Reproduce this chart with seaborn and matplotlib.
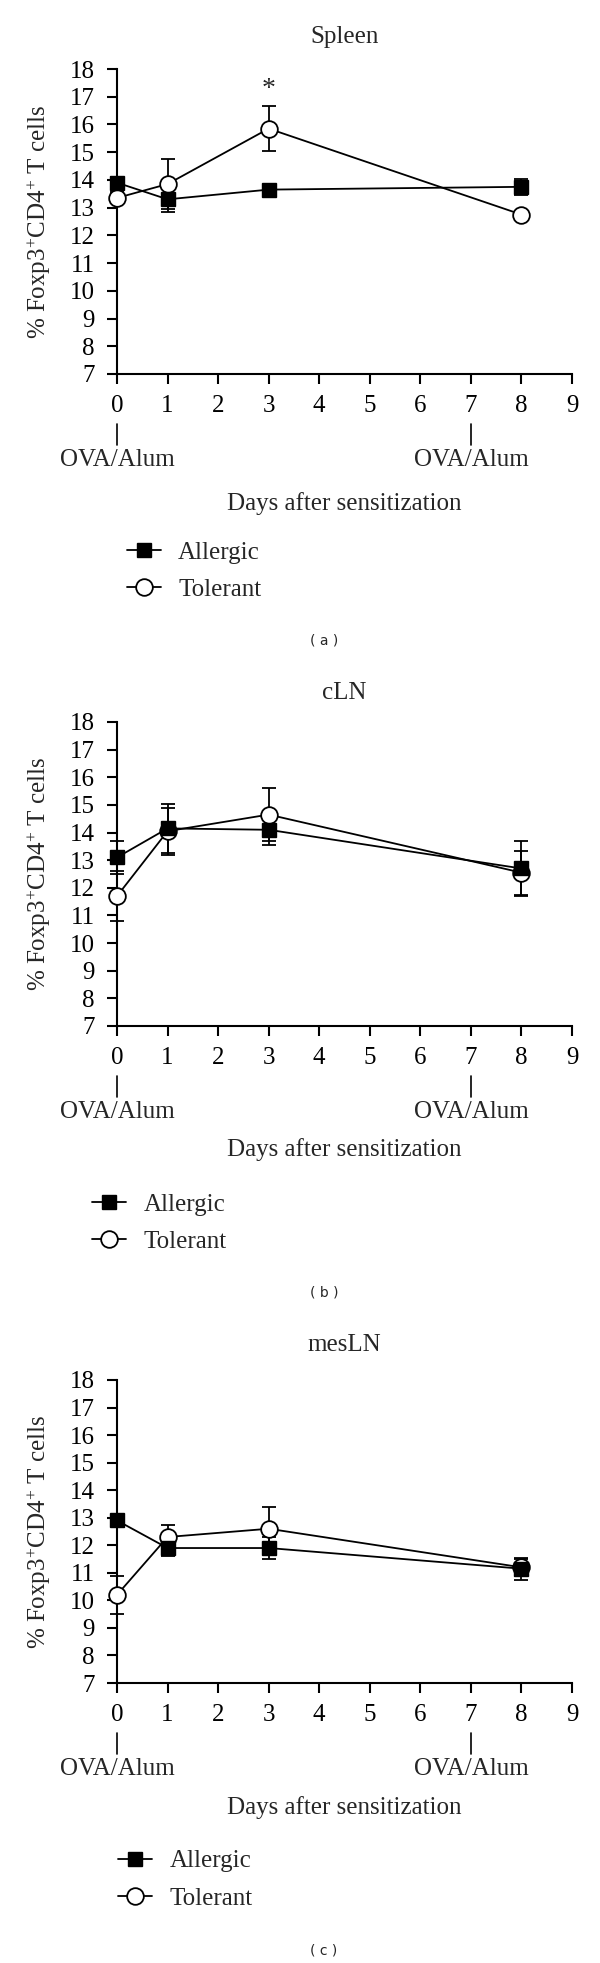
import numpy as np
import pandas as pd
import matplotlib
matplotlib.use('Agg')
import matplotlib.pyplot as plt
import seaborn as sns
from matplotlib.lines import Line2D

# Days after the first OVA/Alum sensitization
DAYS = [0, 1, 3, 8]
PANEL_NAMES = ['Spleen', 'cLN', 'mesLN']
PANEL_TAGS = ['( a )', '( b )', '( c )']

# % Foxp3+CD4+ T cells (mean) and error bar half-lengths
spleen_allergic = [13.9, 13.3, 13.65, 13.75]
spleen_tolerant = [13.35, 13.85, 15.85, 12.75]
spleen_allergic_err = [0.2, 0.45, 0.1, 0.3]
spleen_tolerant_err = [0.2, 0.9, 0.8, 0.1]

cln_allergic = [13.1, 14.15, 14.1, 12.7]
cln_tolerant = [11.7, 14.05, 14.65, 12.55]
cln_allergic_err = [0.6, 0.9, 0.55, 1.0]
cln_tolerant_err = [0.9, 0.85, 0.95, 0.8]

mesln_allergic = [12.9, 11.9, 11.9, 11.15]
mesln_tolerant = [10.2, 12.3, 12.6, 11.2]
mesln_allergic_err = [0.1, 0.3, 0.4, 0.4]
mesln_tolerant_err = [0.7, 0.45, 0.8, 0.3]

sns.set_style('ticks')
plt.rcParams['font.family'] = ['Liberation Serif', 'DejaVu Serif']
plt.rcParams['mathtext.fontset'] = 'custom'
plt.rcParams['mathtext.rm'] = 'Liberation Serif'
plt.rcParams['mathtext.it'] = 'Liberation Serif:italic'

W, H = 600, 1963
fig = plt.figure(figsize=(W / 100, H / 100), dpi=100)

# axes boxes in pixels: left, top, right, bottom
boxes = [(117, 69, 572, 374), (117, 722, 572, 1026), (117, 1380, 572, 1683)]
title_off = [32, 29, 35]
xlabel_off = [130, 124, 125]
legend_x = [127, 92, 118]

series = [
    (spleen_allergic, spleen_tolerant, spleen_allergic_err, spleen_tolerant_err),
    (cln_allergic, cln_tolerant, cln_allergic_err, cln_tolerant_err),
    (mesln_allergic, mesln_tolerant, mesln_allergic_err, mesln_tolerant_err),
]

FS = 18
LW = 1.3

for i, (name, tag, (allergic, tolerant, a_err, t_err)) in enumerate(zip(PANEL_NAMES, PANEL_TAGS, series)):
    l, t, r, b = boxes[i]
    ax = fig.add_axes([l / W, 1 - b / H, (r - l) / W, (b - t) / H])

    df = pd.DataFrame({
        'day': DAYS * 2,
        'value': allergic + tolerant,
        'group': ['Allergic'] * len(DAYS) + ['Tolerant'] * len(DAYS),
    })

    ax.errorbar(DAYS, allergic, yerr=a_err, fmt='none', ecolor='black',
                elinewidth=LW, capsize=5, capthick=LW, clip_on=False, zorder=2)
    ax.errorbar(DAYS, tolerant, yerr=t_err, fmt='none', ecolor='black',
                elinewidth=LW, capsize=5, capthick=LW, clip_on=False, zorder=2)

    sns.lineplot(data=df[df['group'] == 'Tolerant'], x='day', y='value', ax=ax,
                 color='black', lw=LW, marker='o', markersize=12,
                 markerfacecolor='white', markeredgecolor='black', mew=1.3,
                 errorbar=None, legend=False, clip_on=False, zorder=3)
    sns.lineplot(data=df[df['group'] == 'Allergic'], x='day', y='value', ax=ax,
                 color='black', lw=LW, marker='s', markersize=10.5,
                 markerfacecolor='black', markeredgecolor='black', mew=1,
                 errorbar=None, legend=False, clip_on=False, zorder=4)

    ax.set_xlim(0, 9)
    ax.set_ylim(7, 18)
    ax.set_xticks(range(0, 10))
    ax.set_yticks(range(7, 19))
    sns.despine(ax=ax)
    for side in ['left', 'bottom']:
        ax.spines[side].set_linewidth(1.5)
        ax.spines[side].set_color('black')
    ax.tick_params(axis='both', direction='out', length=7, width=1.5,
                   labelsize=FS, colors='black')
    ax.tick_params(axis='x', pad=8)
    ax.tick_params(axis='y', pad=9)
    ax.set_xlabel('')
    ax.set_ylabel(r'% Foxp3$^{+}$CD4$^{+}$ T cells', fontsize=FS, labelpad=12)

    ax.set_title(name, fontsize=FS, pad=0, y=1 + title_off[i] / (b - t), va='center')

    # sensitization markers under day 0 and day 7
    for d in [0, 7]:
        ax.plot([d, d], [-50 / (b - t), -71 / (b - t)], color='black', lw=1.2,
                transform=ax.get_xaxis_transform(), clip_on=False)
        ax.text(d, -86 / (b - t), 'OVA/Alum', transform=ax.get_xaxis_transform(),
                ha='center', va='center', fontsize=FS)

    ax.text(4.5, -xlabel_off[i] / (b - t), 'Days after sensitization',
            transform=ax.get_xaxis_transform(), ha='center', va='center', fontsize=FS)

    if name == 'Spleen':
        ax.text(3, 17.25, '*', ha='center', va='center', fontsize=FS + 2)

    handles = [
        Line2D([], [], color='black', lw=LW, marker='s', markersize=10.5,
               markerfacecolor='black', markeredgecolor='black'),
        Line2D([], [], color='black', lw=LW, marker='o', markersize=12,
               markerfacecolor='white', markeredgecolor='black', mew=1.3),
    ]
    leg_top = b + 167
    fig.legend(handles, ['Allergic', 'Tolerant'], loc='upper left',
               bbox_to_anchor=(legend_x[i] / W, 1 - leg_top / H),
               frameon=False, fontsize=FS, handlelength=1.35, handletextpad=0.7,
               labelspacing=0.6, borderpad=0, borderaxespad=0)

    fig.text(324 / W, 1 - (b + 267) / H, tag, ha='center', va='center',
             fontsize=10, family='DejaVu Sans')

fig.savefig('out.png', dpi=100)
